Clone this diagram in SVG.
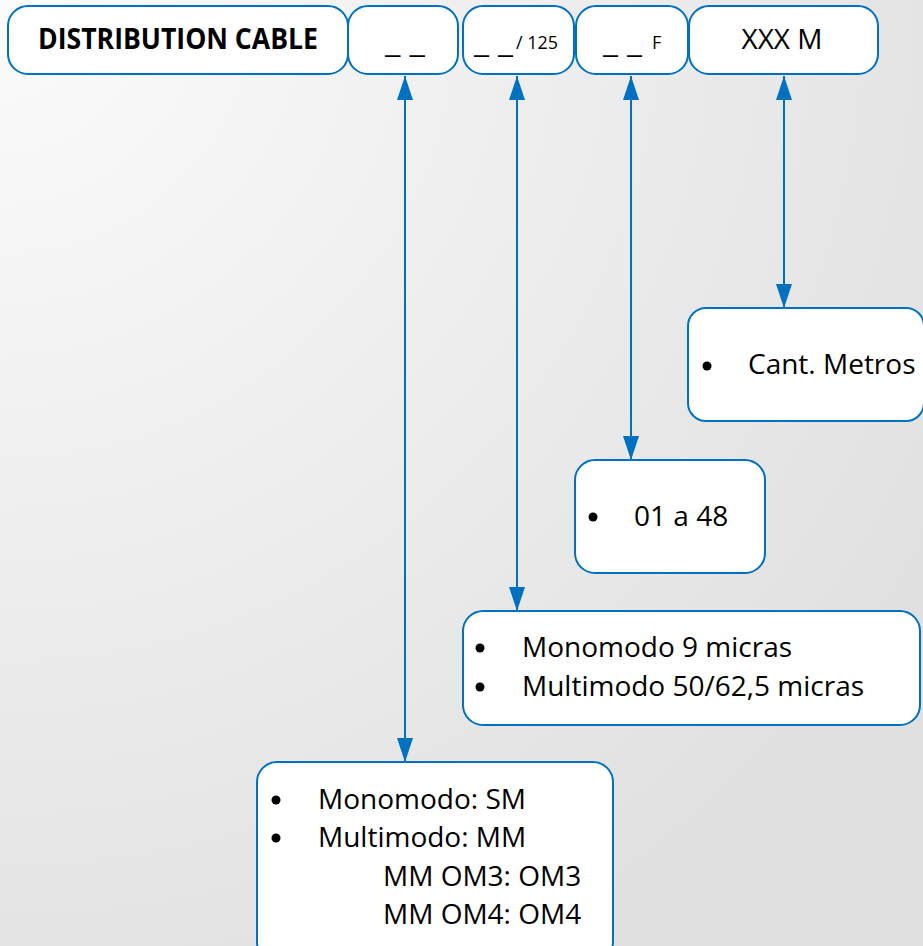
<svg xmlns="http://www.w3.org/2000/svg" width="923" height="946" viewBox="0 0 923 946">
  <defs>
    <radialGradient id="bg" cx="0" cy="0" r="1100" gradientUnits="userSpaceOnUse">
      <stop offset="0" stop-color="#fbfbfb"/>
      <stop offset="1" stop-color="#e0e0e0"/>
    </radialGradient>
    <marker id="ah" viewBox="0 0 24 16" refX="24" refY="8" markerWidth="24" markerHeight="16" markerUnits="userSpaceOnUse" orient="auto-start-reverse">
      <path d="M0,0 L24,8 L0,16 Z" fill="#0070C0"/>
    </marker>
    <style>
      .box { fill: #ffffff; stroke: #0070C0; stroke-width: 2; }
      .t { font-family: "Open Sans", "Liberation Sans", sans-serif; font-size: 28px; fill: #000000; }
      .sm { font-size: 18px; }
      .b { font-weight: bold; }
      .con { stroke: #0070C0; stroke-width: 2; fill: none; }
      .dot { fill: #000000; }
    </style>
  </defs>
  <rect x="0" y="0" width="923" height="946" fill="url(#bg)"/>

  <g id="connectors">
    <line class="con" x1="405" y1="76" x2="405" y2="762" marker-start="url(#ah)" marker-end="url(#ah)"/>
    <line class="con" x1="517" y1="76" x2="517" y2="611" marker-start="url(#ah)" marker-end="url(#ah)"/>
    <line class="con" x1="631" y1="76" x2="631" y2="460" marker-start="url(#ah)" marker-end="url(#ah)"/>
    <line class="con" x1="784" y1="76" x2="784" y2="308" marker-start="url(#ah)" marker-end="url(#ah)"/>
  </g>

  <g id="node-distribution">
    <rect class="box" x="8" y="6" width="340" height="68" rx="20"/>
    <text class="t b" x="38" y="49" textLength="280" lengthAdjust="spacingAndGlyphs">DISTRIBUTION CABLE</text>
  </g>
  <g id="node-tipo">
    <rect class="box" x="348" y="6" width="110" height="68" rx="20"/>
    <text class="t" x="385" y="53" textLength="40" lengthAdjust="spacingAndGlyphs">_ _</text>
  </g>
  <g id="node-micras">
    <rect class="box" x="463" y="6" width="111" height="68" rx="20"/>
    <text class="t" x="474" y="53" textLength="39" lengthAdjust="spacingAndGlyphs">_ _</text>
    <text class="t sm" x="516" y="49">/ 125</text>
  </g>
  <g id="node-fibras">
    <rect class="box" x="576" y="6" width="112" height="68" rx="20"/>
    <text class="t" x="603" y="53" textLength="39" lengthAdjust="spacingAndGlyphs">_ _</text>
    <text class="t sm" x="652" y="49">F</text>
  </g>
  <g id="node-metros">
    <rect class="box" x="689" y="6" width="189" height="68" rx="20"/>
    <text class="t" x="782" y="49" text-anchor="middle">XXX M</text>
  </g>

  <g id="node-cant-metros">
    <rect class="box" x="688" y="308" width="236" height="113" rx="18"/>
    <circle class="dot" cx="707" cy="366" r="4.5"/>
    <text class="t" x="748" y="374">Cant. Metros</text>
  </g>

  <g id="node-01a48">
    <rect class="box" x="575" y="460" width="190" height="113" rx="20"/>
    <circle class="dot" cx="593" cy="517" r="4.5"/>
    <text class="t" x="634" y="526">01 a 48</text>
  </g>

  <g id="node-micras-list">
    <rect class="box" x="463" y="611" width="457" height="114" rx="20"/>
    <circle class="dot" cx="480" cy="648" r="4.5"/>
    <circle class="dot" cx="480" cy="687" r="4.5"/>
    <text class="t" x="522" y="657">Monomodo 9 micras</text>
    <text class="t" x="522" y="696">Multimodo 50/62,5 micras</text>
  </g>

  <g id="node-modo-list">
    <rect class="box" x="257" y="762" width="356" height="200" rx="20"/>
    <circle class="dot" cx="276" cy="800" r="4.5"/>
    <circle class="dot" cx="276" cy="838" r="4.5"/>
    <text class="t" x="318" y="809">Monomodo: SM</text>
    <text class="t" x="318" y="847">Multimodo: MM</text>
    <text class="t" x="383" y="886">MM OM3: OM3</text>
    <text class="t" x="383" y="924">MM OM4: OM4</text>
  </g>
</svg>
